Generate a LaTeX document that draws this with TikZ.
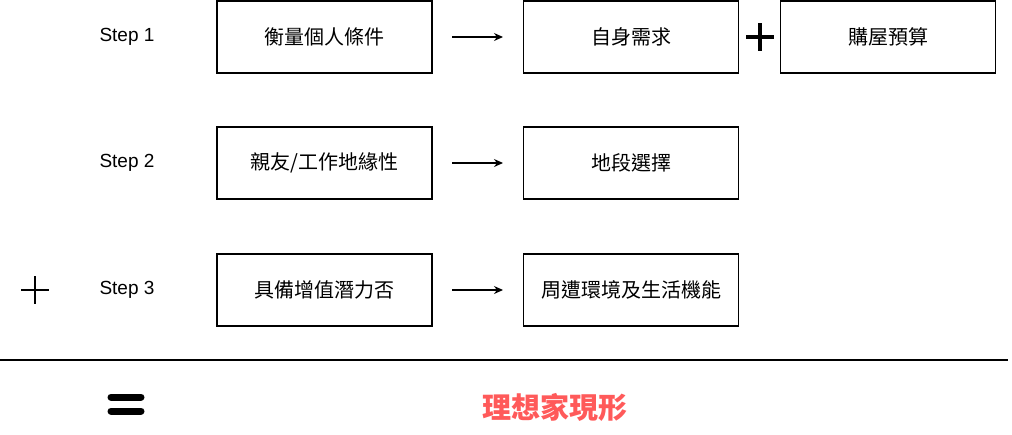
\documentclass[tikz,border=0pt]{standalone}
\usepackage{fontspec}
\setmainfont{Liberation Sans}
\newfontfamily\cjk{Noto Sans CJK TC}
\usetikzlibrary{positioning}
\usetikzlibrary{arrows.meta}
\definecolor{idealred}{HTML}{FF5A5A}
\tikzset{
  stepbox/.style={draw, line width=1.3pt, minimum width=215pt, minimum height=72pt, font=\cjk\fontsize{20}{24}\selectfont},
  steplabel/.style={font=\fontsize{19}{22}\selectfont},
  flow/.style={-{Stealth[length=9pt, width=8pt]}, line width=1.3pt}
}
\begin{document}
\begin{tikzpicture}[x=1pt, y=-1pt]
  \useasboundingbox (0,0) rectangle (1012,434);

  % Step labels
  \node[steplabel] (s1) at (127,37) {Step 1};
  \node[steplabel] (s2) at (127,163) {Step 2};
  \node[steplabel] (s3) at (127,290) {Step 3};

  % Boxes
  \node[stepbox] (cond) at (324.5,37) {衡量個人條件};
  \node[stepbox] (need) at (631,37) {自身需求};
  \node[stepbox] (budget) at (888,37) {購屋預算};
  \node[stepbox] (rel) at (324.5,163) {親友/工作地緣性};
  \node[stepbox] (area) at (631,163) {地段選擇};
  \node[stepbox] (val) at (324.5,290) {具備增值潛力否};
  \node[stepbox] (env) at (631,290) {周遭環境及生活機能};

  % Arrows
  \draw[flow] (452,37) -- (503,37);
  \draw[flow] (452,163) -- (503,163);
  \draw[flow] (452,290) -- (503,290);

  % Plus signs
  \draw[line width=4pt] (746,37) -- (774,37) (760,23) -- (760,51);
  \draw[line width=2.5pt] (21,290) -- (49,290) (35,276) -- (35,304);

  % Rule and result
  \draw[line width=1.2pt] (0,360) -- (1008,360);
  \draw[line width=7pt, line cap=round] (111,397) -- (141,397) (111,411) -- (141,411);
  \node[text=idealred, font=\cjk\bfseries\fontsize{29}{34}\selectfont] (ideal) at (555,407) {理想家現形};
\end{tikzpicture}
\end{document}
